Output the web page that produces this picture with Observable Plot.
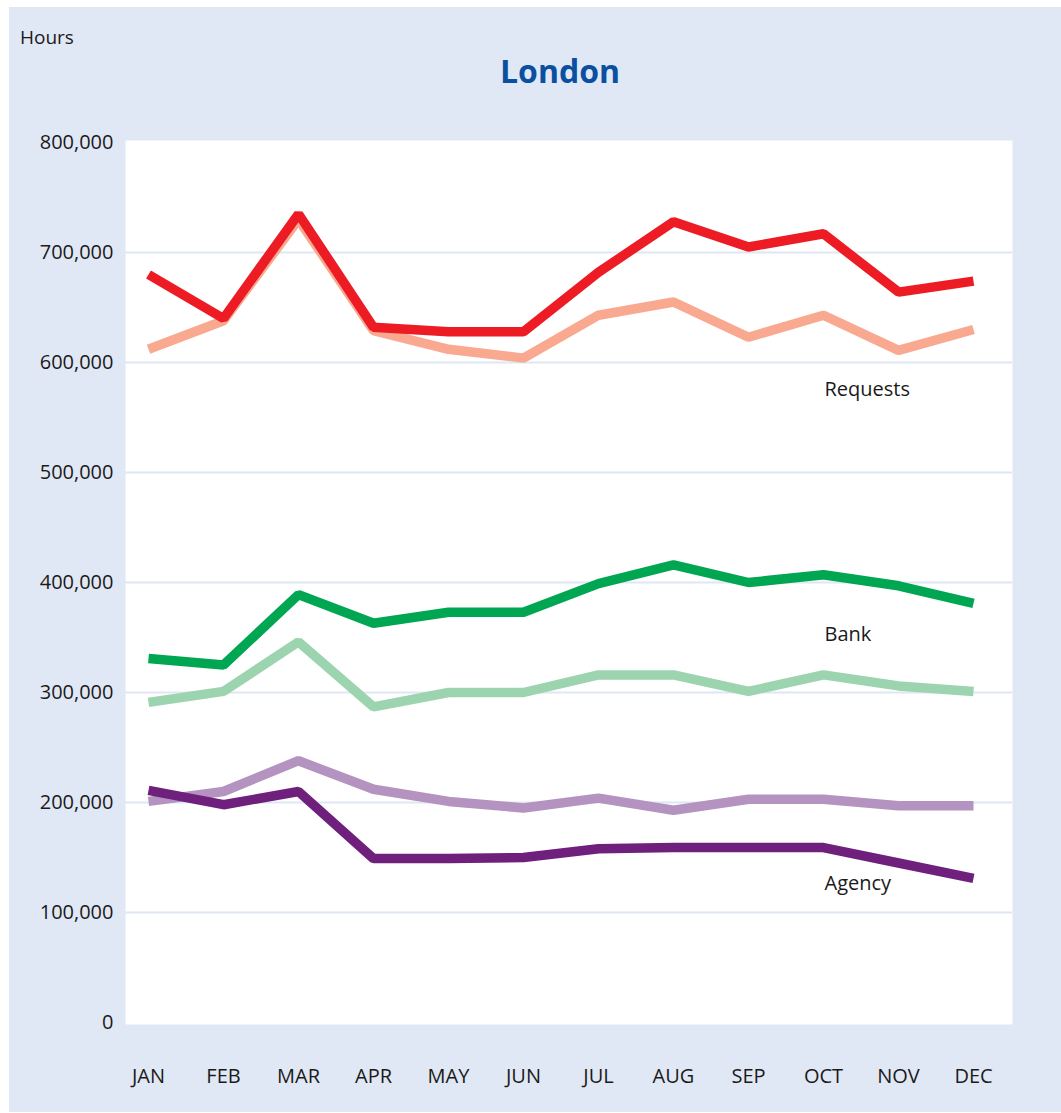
<!DOCTYPE html>
<html>
<head>
<meta charset="utf-8">
<script src="https://cdn.jsdelivr.net/npm/d3@7"></script>
<script src="https://cdn.jsdelivr.net/npm/@observablehq/plot@0.6"></script>
<style>
  html, body { margin: 0; padding: 0; background: #ffffff; }
  #panel { position: absolute; left: 9px; top: 7px; width: 1052px; height: 1105px; background: #e1e8f5; font-family: "Open Sans", sans-serif; }
  #units { position: absolute; left: 11px; top: 21px; font-size: 19px; line-height: 1; color: #1a1a1a; }
  #title { position: absolute; left: 0; width: 1102px; top: 48px; text-align: center; font-size: 32px; line-height: 1; font-weight: 700; color: #0b4fa0; }
  #chart { position: absolute; left: 0; top: 100px; }
</style>
</head>
<body>
<div id="panel">
  <div id="units">Hours</div>
  <div id="title">London</div>
  <div id="chart"></div>
</div>
<script>
const months = ["JAN","FEB","MAR","APR","MAY","JUN","JUL","AUG","SEP","OCT","NOV","DEC"];
const requestsDark  = [680000, 640000, 735000, 632000, 628000, 628000, 682000, 728000, 705000, 717000, 664000, 674000];
const requestsLight = [612000, 638000, 730000, 629000, 612000, 604000, 643000, 655000, 623000, 643000, 611000, 630000];
const bankDark      = [331000, 325000, 389000, 363000, 373000, 373000, 399000, 416000, 400000, 407000, 397000, 381000];
const bankLight     = [291000, 301000, 346000, 287000, 300000, 300000, 316000, 316000, 301000, 316000, 306000, 301000];
const agencyLight   = [201000, 210000, 238000, 212000, 201000, 195000, 204000, 193000, 203000, 203000, 197000, 197000];
const agencyDark    = [211000, 198000, 210000, 149000, 149000, 150000, 158000, 159000, 159000, 159000, 145000, 131000];

const yTicks = [0, 100000, 200000, 300000, 400000, 500000, 600000, 700000, 800000];
const gridValues = [100000, 200000, 300000, 400000, 500000, 600000, 700000];

const labelNames  = ["Requests", "Bank", "Agency"];
const labelMonths = ["OCT", "OCT", "OCT"];
const labelValues = [575000, 353000, 126000];

const seriesList = [
  {values: requestsLight, color: "#f9a98f"},
  {values: requestsDark,  color: "#ed1c24"},
  {values: bankLight,     color: "#9dd4b0"},
  {values: bankDark,      color: "#00a651"},
  {values: agencyLight,   color: "#b493c0"},
  {values: agencyDark,    color: "#6f1f7c"}
];

const labels = labelNames.map((name, i) => ({name, month: labelMonths[i], value: labelValues[i]}));

const lineMarks = seriesList.map(s =>
  Plot.line(months.map((m, i) => ({month: m, value: s.values[i]})), {
    x: "month", y: "value", stroke: s.color, strokeWidth: 9.5,
    strokeLinecap: "butt", strokeLinejoin: "miter"
  })
);

const chart = Plot.plot({
  width: 1052,
  height: 1005,
  marginLeft: 116,
  marginRight: 49,
  marginTop: 33,
  marginBottom: 88,
  insetTop: 2,
  insetBottom: 2,
  style: {fontFamily: "Open Sans, sans-serif", fontSize: "20px", color: "#1a1a1a", background: "transparent", overflow: "visible"},
  x: {type: "point", domain: months, padding: 0, insetLeft: 20, insetRight: 37, label: null},
  y: {domain: [0, 800000], label: null},
  marks: [
    Plot.frame({fill: "#ffffff", stroke: null}),
    Plot.ruleY(gridValues, {stroke: "#dfe7f4", strokeWidth: 2}),
    Plot.axisY({ticks: yTicks, tickSize: 0, tickPadding: 12, tickFormat: d3.format(","), label: null, fill: "#1a1a1a"}),
    Plot.axisX({tickSize: 0, tickPadding: 44, label: null, fill: "#1a1a1a"}),
    ...lineMarks,
    Plot.text(labels, {x: "month", y: "value", text: "name", textAnchor: "start", dx: 1, fontSize: 20, fill: "#1a1a1a"})
  ]
});
document.getElementById("chart").appendChild(chart);
</script>
</body>
</html>
